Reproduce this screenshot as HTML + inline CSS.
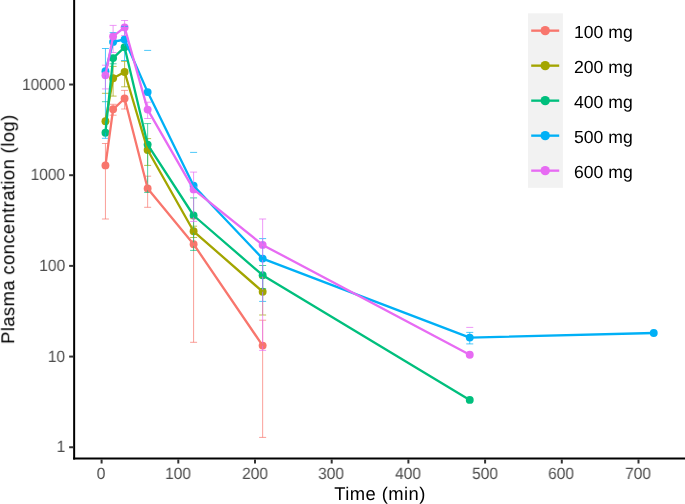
<!DOCTYPE html>
<html><head><meta charset="utf-8"><title>Plasma concentration</title>
<style>
html,body{margin:0;padding:0;background:#fff;width:685px;height:504px;overflow:hidden;}
body{width:685px;height:504px;position:relative;overflow:hidden;font-family:"Liberation Sans",sans-serif;}
.yt,.xt,.lg,.xl,.yl{will-change:transform;text-rendering:geometricPrecision;}
.yt{position:absolute;left:0;width:65.2px;transform:scaleX(0.955);transform-origin:100% 50%;text-align:right;font-size:16.3px;line-height:20px;height:20px;color:#4D4D4D;white-space:nowrap;}
.xt{position:absolute;top:463.7px;transform:scaleX(0.955);transform-origin:50% 50%;width:60px;text-align:center;font-size:16.3px;line-height:20px;height:20px;color:#4D4D4D;white-space:nowrap;}
.lg{position:absolute;left:574.2px;font-size:17.6px;line-height:20px;height:20px;color:#000;white-space:nowrap;}
.xl{height:21px;overflow:hidden;position:absolute;left:279.8px;width:200px;text-align:center;top:483.0px;font-size:18.4px;letter-spacing:0.42px;line-height:22px;color:#000;white-space:nowrap;}
.yl{position:absolute;left:0;top:0;font-size:18.4px;letter-spacing:0.41px;line-height:22px;color:#000;white-space:nowrap;transform-origin:0 0;transform:translate(-2.8px,379.2px) rotate(-90deg);width:300px;text-align:center;}
</style></head><body>
<svg width="685" height="504" viewBox="0 0 685 504" style="position:absolute;left:0;top:0">
<rect width="685" height="504" fill="#fff"/>
<circle cx="105.45" cy="165.4" r="3.95" fill="#F8766D"/>
<circle cx="113.1" cy="109.3" r="3.95" fill="#F8766D"/>
<circle cx="124.6" cy="98.5" r="3.95" fill="#F8766D"/>
<circle cx="147.65" cy="188.5" r="3.95" fill="#F8766D"/>
<circle cx="193.6" cy="244.2" r="3.95" fill="#F8766D"/>
<circle cx="262.65" cy="345.6" r="3.95" fill="#F8766D"/>
<circle cx="105.45" cy="121.2" r="3.95" fill="#A3A500"/>
<circle cx="113.1" cy="78.2" r="3.95" fill="#A3A500"/>
<circle cx="124.6" cy="72.0" r="3.95" fill="#A3A500"/>
<circle cx="147.65" cy="150.0" r="3.95" fill="#A3A500"/>
<circle cx="193.6" cy="231.3" r="3.95" fill="#A3A500"/>
<circle cx="262.65" cy="291.7" r="3.95" fill="#A3A500"/>
<circle cx="105.45" cy="132.7" r="3.95" fill="#00BF7D"/>
<circle cx="113.1" cy="58.1" r="3.95" fill="#00BF7D"/>
<circle cx="124.6" cy="47.2" r="3.95" fill="#00BF7D"/>
<circle cx="147.65" cy="144.6" r="3.95" fill="#00BF7D"/>
<circle cx="193.6" cy="215.5" r="3.95" fill="#00BF7D"/>
<circle cx="262.65" cy="275.2" r="3.95" fill="#00BF7D"/>
<circle cx="469.75" cy="399.9" r="3.95" fill="#00BF7D"/>
<circle cx="105.45" cy="71.3" r="3.95" fill="#00B0F6"/>
<circle cx="113.1" cy="41.9" r="3.95" fill="#00B0F6"/>
<circle cx="124.6" cy="39.5" r="3.95" fill="#00B0F6"/>
<circle cx="147.65" cy="92.1" r="3.95" fill="#00B0F6"/>
<circle cx="193.6" cy="185.8" r="3.95" fill="#00B0F6"/>
<circle cx="262.65" cy="258.6" r="3.95" fill="#00B0F6"/>
<circle cx="469.75" cy="337.6" r="3.95" fill="#00B0F6"/>
<circle cx="653.75" cy="333.0" r="3.95" fill="#00B0F6"/>
<circle cx="105.45" cy="75.3" r="3.95" fill="#E76BF3"/>
<circle cx="113.1" cy="36.4" r="3.95" fill="#E76BF3"/>
<circle cx="124.6" cy="27.4" r="3.95" fill="#E76BF3"/>
<circle cx="147.65" cy="109.6" r="3.95" fill="#E76BF3"/>
<circle cx="193.6" cy="189.4" r="3.95" fill="#E76BF3"/>
<circle cx="262.65" cy="244.9" r="3.95" fill="#E76BF3"/>
<circle cx="469.75" cy="354.8" r="3.95" fill="#E76BF3"/>
<path d="M101.95,143.5H108.95M105.45,143.5V219.0M101.95,219.0H108.95" fill="none" stroke="#F8766D" stroke-width="0.7"/>
<path d="M109.6,104.3H116.6M113.1,104.3V115.2M109.6,115.2H116.6" fill="none" stroke="#F8766D" stroke-width="0.7"/>
<path d="M121.1,90.4H128.1M124.6,90.4V109.0M121.1,109.0H128.1" fill="none" stroke="#F8766D" stroke-width="0.7"/>
<path d="M144.15,176.2H151.15M147.65,176.2V207.3M144.15,207.3H151.15" fill="none" stroke="#F8766D" stroke-width="0.7"/>
<path d="M190.1,218.7H197.1M193.6,218.7V342.3M190.1,342.3H197.1" fill="none" stroke="#F8766D" stroke-width="0.7"/>
<path d="M259.15,320.2H266.15M262.65,320.2V437.4M259.15,437.4H266.15" fill="none" stroke="#F8766D" stroke-width="0.7"/>
<path d="M101.95,93.3H108.95" fill="none" stroke="#A3A500" stroke-width="0.7"/>
<path d="M109.6,66.4H116.6M113.1,66.4V96.1M109.6,96.1H116.6" fill="none" stroke="#A3A500" stroke-width="0.7"/>
<path d="M121.1,61.3H128.1M124.6,61.3V86.8M121.1,86.8H128.1" fill="none" stroke="#A3A500" stroke-width="0.7"/>
<path d="M144.15,138.6H151.15M147.65,138.6V165.4M144.15,165.4H151.15" fill="none" stroke="#A3A500" stroke-width="0.7"/>
<path d="M190.1,226.2H197.1M193.6,226.2V237.5M190.1,237.5H197.1" fill="none" stroke="#A3A500" stroke-width="0.7"/>
<path d="M259.15,277.6H266.15M262.65,277.6V315.0M259.15,315.0H266.15" fill="none" stroke="#A3A500" stroke-width="0.7"/>
<path d="M101.95,101.7H108.95" fill="none" stroke="#00BF7D" stroke-width="0.7"/>
<path d="M109.6,58.1H116.6M113.1,58.1V63.8M109.6,63.8H116.6" fill="none" stroke="#00BF7D" stroke-width="0.7"/>
<path d="M144.15,123.6H151.15M147.65,123.6V192.4M144.15,192.4H151.15" fill="none" stroke="#00BF7D" stroke-width="0.7"/>
<path d="M190.1,197.9H197.1M193.6,197.9V250.4M190.1,250.4H197.1" fill="none" stroke="#00BF7D" stroke-width="0.7"/>
<path d="M259.15,265.5H266.15M262.65,265.5V288.7M259.15,288.7H266.15" fill="none" stroke="#00BF7D" stroke-width="0.7"/>
<path d="M101.95,48.5H108.95M105.45,48.5V138.3M101.95,138.3H108.95" fill="none" stroke="#00B0F6" stroke-width="0.7"/>
<path d="M109.6,32.6H116.6" fill="none" stroke="#00B0F6" stroke-width="0.7"/>
<path d="M121.1,26.4H128.1M124.6,26.4V60.5M121.1,60.5H128.1" fill="none" stroke="#00B0F6" stroke-width="0.7"/>
<path d="M144.15,50.4H151.15" fill="none" stroke="#00B0F6" stroke-width="0.7"/>
<path d="M190.1,152.4H197.1" fill="none" stroke="#00B0F6" stroke-width="0.7"/>
<path d="M259.15,238.6H266.15M262.65,238.6V301.4M259.15,301.4H266.15" fill="none" stroke="#00B0F6" stroke-width="0.7"/>
<path d="M466.25,332.4H473.25M469.75,332.4V343.9M466.25,343.9H473.25" fill="none" stroke="#00B0F6" stroke-width="0.7"/>
<path d="M101.95,65.2H108.95M105.45,65.2V88.9M101.95,88.9H108.95" fill="none" stroke="#E76BF3" stroke-width="0.7"/>
<path d="M109.6,25.4H116.6M113.1,25.4V52.5M109.6,52.5H116.6" fill="none" stroke="#E76BF3" stroke-width="0.7"/>
<path d="M121.1,20.5H128.1M124.6,20.5V35.6M121.1,35.6H128.1" fill="none" stroke="#E76BF3" stroke-width="0.7"/>
<path d="M144.15,102.2H151.15M147.65,102.2V118.5M144.15,118.5H151.15" fill="none" stroke="#E76BF3" stroke-width="0.7"/>
<path d="M190.1,172.1H197.1M193.6,172.1V221.4M190.1,221.4H197.1" fill="none" stroke="#E76BF3" stroke-width="0.7"/>
<path d="M259.15,219.0H266.15M262.65,219.0V350.4M259.15,350.4H266.15" fill="none" stroke="#E76BF3" stroke-width="0.7"/>
<path d="M466.25,327.4H473.25" fill="none" stroke="#E76BF3" stroke-width="0.7"/>
<polyline points="105.45,165.4 113.1,109.3 124.6,98.5 147.65,188.5 193.6,244.2 262.65,345.6" fill="none" stroke="#F8766D" stroke-width="2.3" stroke-linejoin="round" stroke-linecap="butt"/>
<polyline points="105.45,121.2 113.1,78.2 124.6,72.0 147.65,150.0 193.6,231.3 262.65,291.7" fill="none" stroke="#A3A500" stroke-width="2.3" stroke-linejoin="round" stroke-linecap="butt"/>
<polyline points="105.45,132.7 113.1,58.1 124.6,47.2 147.65,144.6 193.6,215.5 262.65,275.2 469.75,399.9" fill="none" stroke="#00BF7D" stroke-width="2.3" stroke-linejoin="round" stroke-linecap="butt"/>
<polyline points="105.45,71.3 113.1,41.9 124.6,39.5 147.65,92.1 193.6,185.8 262.65,258.6 469.75,337.6 653.75,333.0" fill="none" stroke="#00B0F6" stroke-width="2.3" stroke-linejoin="round" stroke-linecap="butt"/>
<polyline points="105.45,75.3 113.1,36.4 124.6,27.4 147.65,109.6 193.6,189.4 262.65,244.9 469.75,354.8" fill="none" stroke="#E76BF3" stroke-width="2.3" stroke-linejoin="round" stroke-linecap="butt"/>
<path d="M74.15,0V459.5" stroke="#000" stroke-width="2.0" fill="none"/>
<path d="M73.15,458.5H685" stroke="#000" stroke-width="2.0" fill="none"/>
<path d="M69.15,447.25H73.15" stroke="#333" stroke-width="2.0"/>
<path d="M69.15,356.57H73.15" stroke="#333" stroke-width="2.0"/>
<path d="M69.15,265.89H73.15" stroke="#333" stroke-width="2.0"/>
<path d="M69.15,175.21H73.15" stroke="#333" stroke-width="2.0"/>
<path d="M69.15,84.53H73.15" stroke="#333" stroke-width="2.0"/>
<path d="M101.60,459.5V463.5" stroke="#333" stroke-width="2.0"/>
<path d="M178.30,459.5V463.5" stroke="#333" stroke-width="2.0"/>
<path d="M255.00,459.5V463.5" stroke="#333" stroke-width="2.0"/>
<path d="M331.70,459.5V463.5" stroke="#333" stroke-width="2.0"/>
<path d="M408.40,459.5V463.5" stroke="#333" stroke-width="2.0"/>
<path d="M485.10,459.5V463.5" stroke="#333" stroke-width="2.0"/>
<path d="M561.80,459.5V463.5" stroke="#333" stroke-width="2.0"/>
<path d="M638.50,459.5V463.5" stroke="#333" stroke-width="2.0"/>
<rect x="528.0" y="13.3" width="34.90" height="174.5" fill="#F2F2F2"/>
<path d="M531.2,30.65H559.2" stroke="#F8766D" stroke-width="2.35" fill="none"/>
<circle cx="545.2" cy="30.65" r="4.65" fill="#F8766D"/>
<path d="M531.2,65.65H559.2" stroke="#A3A500" stroke-width="2.35" fill="none"/>
<circle cx="545.2" cy="65.65" r="4.65" fill="#A3A500"/>
<path d="M531.2,100.65H559.2" stroke="#00BF7D" stroke-width="2.35" fill="none"/>
<circle cx="545.2" cy="100.65" r="4.65" fill="#00BF7D"/>
<path d="M531.2,135.65H559.2" stroke="#00B0F6" stroke-width="2.35" fill="none"/>
<circle cx="545.2" cy="135.65" r="4.65" fill="#00B0F6"/>
<path d="M531.2,170.65H559.2" stroke="#E76BF3" stroke-width="2.35" fill="none"/>
<circle cx="545.2" cy="170.65" r="4.65" fill="#E76BF3"/>
</svg>
<div class="yt" style="top:437.45px">1</div><div class="yt" style="top:346.77px">10</div><div class="yt" style="top:256.09px">100</div><div class="yt" style="top:165.41px">1000</div><div class="yt" style="top:74.73px">10000</div><div class="xt" style="left:71.20px">0</div><div class="xt" style="left:147.90px">100</div><div class="xt" style="left:224.60px">200</div><div class="xt" style="left:301.30px">300</div><div class="xt" style="left:378.00px">400</div><div class="xt" style="left:454.70px">500</div><div class="xt" style="left:531.40px">600</div><div class="xt" style="left:608.10px">700</div><div class="lg" style="top:22.15px">100 mg</div><div class="lg" style="top:57.15px">200 mg</div><div class="lg" style="top:92.15px">400 mg</div><div class="lg" style="top:127.15px">500 mg</div><div class="lg" style="top:162.15px">600 mg</div>
<div class="xl">Time (min)</div>
<div class="yl">Plasma concentration (log)</div>
</body></html>
